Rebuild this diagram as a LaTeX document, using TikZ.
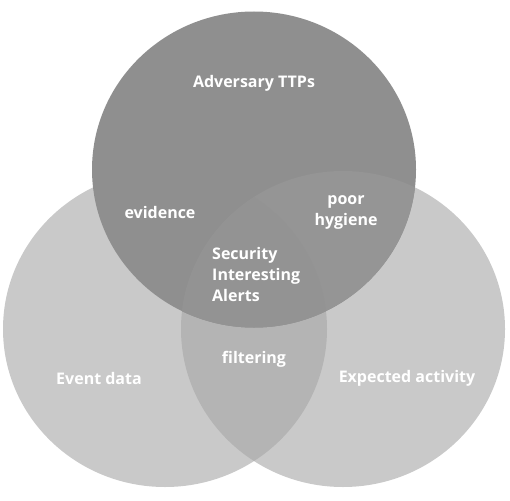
\documentclass[tikz,border=0pt]{standalone}
\usepackage{fontspec}
\setmainfont{Open Sans}
\definecolor{solo}{gray}{0.79}
\definecolor{lrov}{gray}{0.705}
\definecolor{topc}{gray}{0.56}
\definecolor{toprt}{gray}{0.585}
\definecolor{ctr}{gray}{0.575}
\begin{document}
\begin{tikzpicture}[x=1pt,y=-1pt,
  lbl/.style={text=white,font=\bfseries\fontsize{16}{21}\selectfont,inner sep=0pt}]
\useasboundingbox (0,0) rectangle (510,500);
\def\Ltop{(254,169.5) ellipse [x radius=162, y radius=158]}
\def\Lleft{(165,329) ellipse [x radius=162, y radius=158]}
\def\Lright{(343,329) ellipse [x radius=162, y radius=158]}
\fill[solo] \Lleft;
\fill[solo] \Lright;
\begin{scope}\clip \Lleft; \fill[lrov] \Lright;\end{scope}
\fill[topc] \Ltop;
\begin{scope}\clip \Ltop; \fill[toprt] \Lright;\end{scope}
\begin{scope}\clip \Ltop; \clip \Lright; \fill[ctr] \Lleft;\end{scope}
\node[lbl] (adv) at (254,83) {Adversary TTPs};
\node[lbl] (evid) at (160,212) {evidence};
\node[lbl,align=center] (hyg) at (346,212.5) {poor\\hygiene};
\node[lbl,align=left,anchor=west] (sia) at (212,274) {Security\\Interesting\\Alerts};
\node[lbl] (filt) at (254,359) {filtering};
\node[lbl] (ev) at (99,378) {Event data};
\node[lbl] (exp) at (407,378) {Expected activity};
\end{tikzpicture}
\end{document}
